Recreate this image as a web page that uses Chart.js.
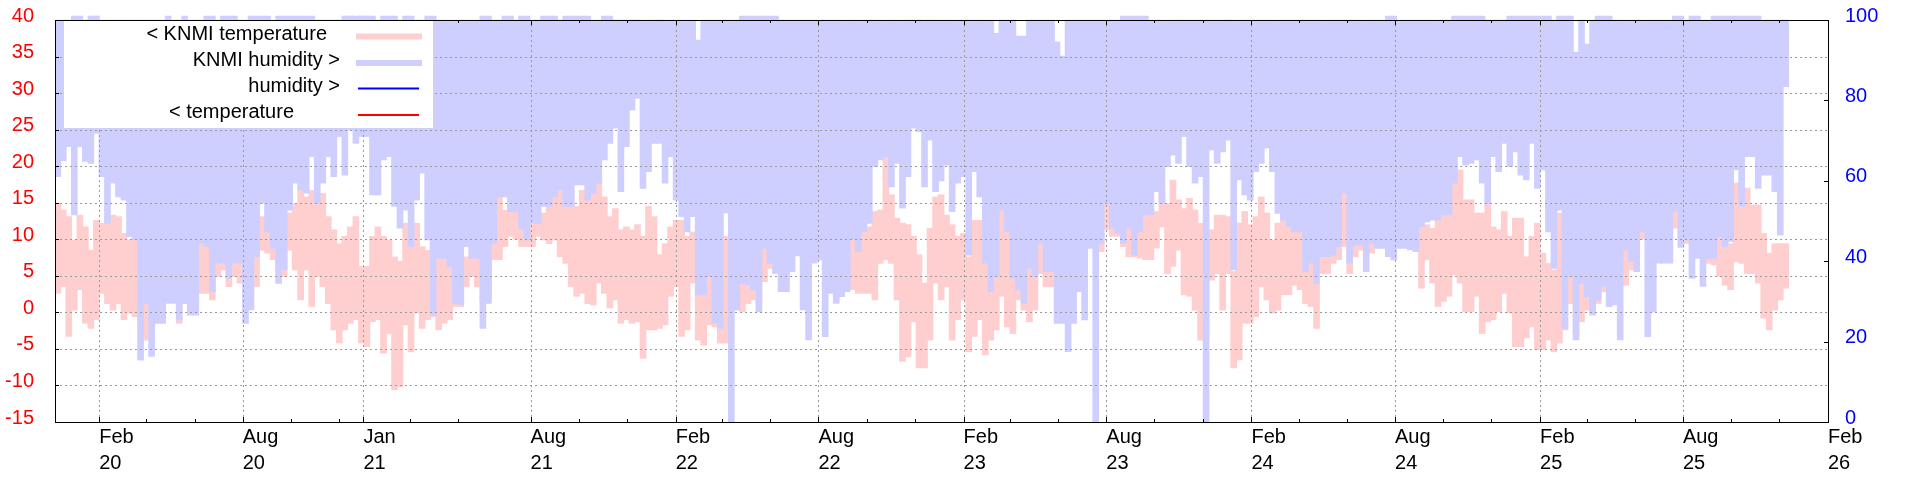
<!DOCTYPE html>
<html>
<head>
<meta charset="utf-8">
<title>KNMI temperatuur en vochtigheid</title>
<script src="https://cdn.jsdelivr.net/npm/chart.js@4/dist/chart.umd.min.js"></script>
<style>
  html, body { margin: 0; padding: 0; background: #fff; }
  #wrap { width: 1920px; height: 480px; position: relative; }
</style>
</head>
<body>
<div id="wrap"><canvas id="chart"></canvas></div>
<script>
// weekly KNMI values, first week starts on this day
const FIRST_WEEK = '2019-12-07';

// max temperature per week (C)
const TEMP_MAX = [
  14.9, 14.0, 13.1, 9.9, 13.3, 11.7, 8.5, 12.6, 12.2, 13.1,
  13.3, 13.1, 10.8, 9.9, 9.9, 12, 14, 15, 16, 17,
  18, 17, 16, 17, 19, 20, 20, 21, 22, 22,
  23, 22, 23, 24, 24, 22, 21, 13.1, 12.2, 10.4,
  9.9, 12.2, 13.6, 14.9, 18.6, 15.8, 16.7, 15.8, 16.3, 13.1,
  11.3, 9.4, 10.4, 11.7, 13.1, 6.3, 6.3, 10.4, 11.7, 10.4,
  9.9, 7.6, 7, 12.2, 9.0, 12.2, 9.0, 8.5, 14, 10.4,
  7.6, 6.7, 5.3, 7.2, 7.6, 9.9, 9.4, 16, 17, 18,
  15.8, 14, 16.7, 15.8, 17, 14.2, 14.5, 13.6, 13.6, 15.8,
  17.7, 17.7, 17.2, 16.7, 14.5, 16.7, 17.2, 16.5, 18.1, 15.8,
  13.1, 14.2, 11.3, 11.7, 11.3, 12.0, 10.4, 14.5, 13.1, 7.9,
  9.4, 11.7, 12.6, 12.6, 10.4, 11.0, 12, 12, 13, 14,
  16, 10.4, 18, 14, 4.9, 5.3, 6.7, 6.7, 9.4, 10.8,
  11.3, 20, 22, 22, 23, 24, 25, 24, 23, 24,
  22, 21, 20, 19, 11.5, 12.2, 12.2, 11.7, 13.8, 14,
  21.3, 16.1, 12.9, 12.2, 12.0, 10.4, 7.9, 4.0, 11.5, 15.8,
  16.1, 13.3, 12.0, 10.4, 10.8, 7.6, 12.6, 12.6, 6.7, 12,
  10, 15.4, 11.3, 12, 12, 12, 13, 14, 9.9, 15,
  16, 18, 20, 21, 22, 22, 23, 24, 25, 22,
  20, 21, 22, 22, 21, 20, 20, 19, 13.3, 13.8,
  16.5, 14.9, 18.1, 15.4, 14.2, 15.6, 14.0, 12.2, 10, 11.3,
  13.3, 13.3, 13.1, 5.6, 12.2, 13.8, 12.0, 13.1, 15.8, 13.6,
  9.9, 12.2, 12.6, 12.6, 14.5, 14.0, 9.4, 9.4, 4.0, 7.6,
  10.4, 8.5, 9.4, 16.5, 18, 10.4, 10.4, 20, 22, 22,
  23, 23, 24, 23, 22, 21, 21, 13.1, 12, 11.5,
  14.2, 13.3, 16.1, 20.6, 19.5, 15.4, 15.4, 13.6, 13.6, 14.9,
  11.7, 11.3, 13.8, 10.4, 12.9, 12.9, 7.6, 10.4, 12.2, 8.1,
  6.7, 5.8, 13.6, 12.2, 4.9, 12, 8.3, 6.7, 4.9, 6.7,
  6.7, 7.2, 18, 19, 20, 20, 21, 21, 22, 23,
  22, 22, 23, 20, 21, 20, 22, 21, 21, 19,
  18, 13.1, 12.2, 9.4, 17.7, 17.2, 17.0, 14.7, 14.7, 10.8,
  8.1, 9.4, 9.4, 9.4
];

// min temperature per week (C)
const TEMP_MIN = [
  2.6, 3.5, -3.3, 0.3, 3.1, -1.5, -2.2, -1.0, 2.6, 1.2,
  0.3, 1.2, -1.0, -0.1, -0.6, -2.0, -3.8, -2.4, -0.6, 0.5,
  1.7, 1.7, -1.5, 1.2, 0.3, 0.8, 2.6, 2.6, 1.7, 4.9,
  5.8, 3.5, 4.9, 4.0, 3.5, 3.1, 3.5, 8.5, 8.1, 7.2,
  5.8, 4.9, 8.5, 5.8, 1.7, 5.8, 0.8, 4.9, 3.5, 1.2,
  -2.4, -4.2, -2.4, -1.5, -1.0, -4.2, -4.7, -1.3, -1.0, -5.6,
  -2.9, -10.6, -10.2, -1.7, -5.4, -0.1, -2.2, -1.0, -0.6, -2.4,
  -1.5, -1.0, 0.8, 0.8, 3.5, 4.9, 3.5, 1.5, 1.7, 7.2,
  7.2, 9.0, 10.4, 10, 9.0, 9.0, 9.0, 10.4, 9.9, 9.4,
  9.9, 7.6, 6.7, 3.5, 2.2, 2.6, 1.2, 1.0, 4.0, 2.6,
  0.6, 1.7, -1.5, -1.0, -1.5, -1.3, -6.3, -2.4, -2.4, -2.2,
  -1.7, 2.2, 3.5, -3.3, -2.4, 4.0, -3.8, -4.5, -1.7, -2.0,
  -4.2, -4.2, 3, 0.3, 0.1, 1.2, 1.7, 1.2, 4.2, 6.0,
  5.3, 8, 9, 9, 10, 10, 11, 11, 10, 11,
  10, 9, 8, 8, 3.1, 2.6, 2.6, 2.6, 1.7, 6.7,
  7.2, 6.7, 1.7, -6.7, -6.1, -1.3, -7.6, -7.6, -3.8, 4.0,
  1.7, 3.5, -3.8, -1.0, 1.7, -5.4, -3.3, -1.0, -5.8, -3.8,
  -2.4, 2.2, -2.0, -2.9, 1.7, 0.3, -1.3, 0.3, 5.3, 3.5,
  3.5, 4, 5, 6, 7, 8, 9, 10, 11, 8.3,
  11.3, 10.4, 10.4, 9.0, 7.6, 7.6, 7.4, 7.2, 7.2, 8.8,
  11.7, 5.3, 6.3, 8.5, 2.4, 2.2, 0.3, -3.8, -3.5, 4.4,
  5.3, 0.3, 5.3, -7.6, -6.5, -1.5, -1.5, -0.6, 3.5, 1.7,
  -0.1, 0.3, 2.4, 2.4, 3.7, 3.1, 1.2, 0.8, -2.2, 5.3,
  5.3, 6.7, 7.2, 9.0, 5.3, 7.6, 8.5, 9, 8.1, 10,
  11, 11, 11, 11, 11, 10, 10, 3.3, 7.2, 4.0,
  0.8, 1.5, 2.2, 5.1, 4.0, 0.1, 0.1, 2.2, -2.9, -1.3,
  -1.0, 0.1, 2.6, -0.1, -4.7, -4.7, -3.5, -2.0, -5.1, -5.1,
  -3.8, -5.4, -4.2, -2.4, 1.2, -3.1, -1.3, 0.3, 0.8, 1.2,
  2.8, 3.1, 3.5, 4, 3.7, 5.8, 8, 10, 10, 10,
  10, 10, 11, 11.5, 10, 9.4, 10, 10, 10, 6.7,
  6.5, 4.9, 3.7, 3.1, 6.9, 6.7, 5.3, 5.3, 4.0, -0.8,
  -2.4, 0.3, 1.7, 3.3
];

// min humidity per week (%)
const HUM_MIN = [
  61, 65, 68.5, 51.5, 68.5, 64.8, 64.3, 71.8, 61, 49.4,
  59.4, 56, 55.2, 46.1, 45.3, 15.4, 29.5, 16.3, 24.5, 24.5,
  29.5, 29.5, 25.4, 29.5, 26.6, 26.6, 44.4, 43.6, 32.4, 39.5,
  39.5, 35.7, 39.5, 39.5, 24.5, 27.9, 41.1, 54.4, 47.3, 43.2,
  34.5, 37.8, 52.7, 59.4, 57.7, 56.9, 66, 54.4, 59.4, 66,
  61, 71, 61.4, 72.6, 69.3, 71, 71, 56.5, 56.5, 65.2,
  66, 53.6, 48.2, 52.7, 43.6, 55.2, 61.9, 45.3, 26.6, 40.7,
  40.7, 38.6, 29.5, 29.1, 43.6, 40.7, 40.7, 23.3, 29.5, 44.4,
  56, 56, 52.3, 52.3, 48, 45.3, 49.4, 49.4, 53.6, 53.6,
  56, 57.7, 53.6, 53.6, 59, 59, 55.2, 56.9, 59.4, 65.2,
  69.3, 73.1, 57.3, 68.5, 77.6, 80.5, 58.1, 62.3, 69.3, 69.3,
  59.4, 66, 55.2, 51.1, 47.3, 51.1, 31.6, 31.6, 36.2, 24.5,
  23.3, 52, 0, 27.9, 34.5, 34.1, 32.8, 27.4, 43.2, 39.5,
  37, 32.4, 32.4, 37.4, 41.3, 27.9, 20.4, 39.5, 40.3, 21.2,
  32, 29.5, 31.2, 32.4, 45.3, 42.4, 47.3, 49.4, 63.5, 65.2,
  66, 58.5, 64.3, 53.2, 61, 73.1, 72.2, 58.5, 70.1, 57.3,
  60, 63.9, 52.3, 59.4, 61, 41.5, 62.3, 56, 39.5, 32.4,
  36.2, 52.7, 47.3, 35.7, 32.8, 29.5, 38.2, 36.2, 44.4, 37.4,
  37.4, 24.5, 24.5, 17.5, 24.5, 32.4, 25.4, 43.2, 0, 44.4,
  54.4, 48.2, 47, 44.4, 48.2, 41.5, 47.3, 51.5, 51.5, 57.3,
  54.4, 63.5, 66.4, 64.3, 71, 63.5, 59.4, 61, 0, 67.7,
  64.3, 67.2, 70.1, 37.8, 60.2, 56.5, 55.2, 62.3, 64.3, 68.1,
  62.3, 51.9, 50.2, 48.6, 47.3, 47.3, 37.4, 39.5, 34.5, 41.1,
  41.1, 41.5, 43.6, 57, 39.5, 44, 44, 37.4, 44.4, 43.2,
  43.2, 41.1, 40.3, 43.2, 43.2, 42.8, 42.4, 48.6, 49.8, 50.2,
  50.2, 51.5, 51.5, 59.4, 66, 63.9, 64.3, 65.2, 59.4, 54.4,
  66, 62.3, 69.3, 63.5, 67.2, 61.4, 60.2, 69.3, 58.1, 62.7,
  47.3, 38.2, 52.7, 23.3, 36.2, 20.4, 34.5, 31.2, 26.6, 30.3,
  33.7, 28.7, 29.1, 20.4, 42.8, 39.9, 37.4, 47.3, 21.2, 27.4,
  39.5, 39.5, 39.5, 52.3, 43.4, 45.3, 35.7, 40.7, 33.7, 40.7,
  40.7, 46.1, 43.6, 44.9, 62.7, 53.6, 66, 66, 58.1, 61.4,
  61.4, 57.3, 46.5, 83.4
];

// max humidity per week (%), a few weeks read just over 100
const HUM_MAX = [
  100, 100, 100, 101, 101, 100, 101, 101, 100, 100,
  100, 100, 100, 100, 100, 100, 100, 100, 100, 100,
  101, 100, 100, 101, 100, 100, 100, 101, 101, 100,
  101, 101, 101, 100, 100, 101, 101, 101, 101, 100,
  101, 101, 101, 101, 101, 101, 101, 100, 100, 100,
  100, 100, 101, 101, 101, 101, 101, 101, 100, 101,
  101, 101, 100, 101, 101, 100, 100, 101, 101, 100,
  100, 100, 100, 100, 100, 100, 100, 101, 101, 100,
  100, 101, 101, 100, 101, 101, 100, 100, 101, 101,
  101, 100, 101, 101, 101, 101, 101, 100, 100, 101,
  101, 100, 100, 100, 100, 100, 100, 100, 100, 100,
  100, 100, 100, 100, 100, 100, 95, 100, 100, 100,
  100, 100, 100, 100, 101, 101, 101, 101, 101, 101,
  101, 100, 100, 100, 100, 100, 100, 100, 100, 100,
  100, 100, 100, 100, 100, 100, 100, 100, 100, 100,
  100, 100, 100, 100, 100, 100, 100, 100, 100, 100,
  100, 100, 100, 100, 100, 100, 100, 100, 100, 100,
  96.7, 100, 100, 100, 96, 96, 100, 100, 100, 100,
  100, 94.6, 91, 100, 100, 100, 100, 100, 100, 100,
  100, 100, 100, 101, 101, 101, 101, 101, 100, 100,
  100, 100, 100, 100, 100, 100, 100, 100, 100, 100,
  100, 100, 100, 100, 100, 100, 100, 100, 100, 100,
  100, 100, 100, 100, 100, 100, 100, 100, 100, 100,
  100, 100, 100, 100, 100, 100, 100, 100, 100, 100,
  100, 101, 101, 100, 100, 100, 100, 100, 100, 100,
  100, 100, 100, 101, 101, 101, 101, 101, 101, 100,
  100, 100, 100, 101, 101, 101, 101, 101, 101, 101,
  101, 100, 101, 101, 101, 92, 100, 94, 100, 101,
  101, 101, 100, 100, 100, 100, 100, 100, 100, 100,
  100, 100, 100, 101, 101, 100, 101, 101, 100, 100,
  101, 101, 101, 101, 101, 101, 101, 101, 101, 100,
  100, 100, 100, 100
];

// x axis
const X_MIN = '2019-12-07';
const X_MAX = '2026-02-01';
const TICK_DATES = ['2020-02-01', '2020-08-01', '2021-01-01', '2021-08-01', '2022-02-01', '2022-08-01',
  '2023-02-01', '2023-08-01', '2024-02-01', '2024-08-01', '2025-02-01', '2025-08-01', '2026-02-01'];
const TICK_LABELS = [['Feb', '20'], ['Aug', '20'], ['Jan', '21'], ['Aug', '21'], ['Feb', '22'], ['Aug', '22'],
  ['Feb', '23'], ['Aug', '23'], ['Feb', '24'], ['Aug', '24'], ['Feb', '25'], ['Aug', '25'], ['Feb', '26']];
const MINOR_DATES = ['2020-04-01', '2020-06-01', '2020-10-01', '2020-12-01', '2021-03-01', '2021-05-01',
  '2021-10-01', '2021-12-01', '2022-04-01', '2022-06-01', '2022-10-01', '2022-12-01', '2023-04-01',
  '2023-06-01', '2023-10-01', '2023-12-01', '2024-04-01', '2024-06-01', '2024-10-01', '2024-12-01',
  '2025-04-01', '2025-06-01', '2025-10-01', '2025-12-01'];

const LEGEND_LABELS = ['< KNMI temperature', 'KNMI humidity >', 'humidity >', '< temperature'];

// looks
const PINK = '#ffcfcf';
const LILAC = '#cfcfff';
const FONT = { family: 'Liberation Sans', size: 20, lineHeight: 1.3 };
const legendRows = [
  { right: 327, base: 40, color: PINK, width: 6, y: 36.5, x0: 356, x1: 422 },
  { right: 340, base: 66, color: LILAC, width: 6, y: 63, x0: 356, x1: 422 },
  { right: 340, base: 92, color: '#0000ff', width: 2, y: 88.5, x0: 358, x1: 419 },
  { right: 294, base: 118, color: '#ff0000', width: 2, y: 115, x0: 358, x1: 419 }
];

const dayOf = (s) => (Date.parse(s) - Date.parse(FIRST_WEEK)) / 86400000;
const weekX = (i) => i * 7 + 3.5;

const tempData = TEMP_MAX.map((v, i) => ({ x: weekX(i), y: [TEMP_MIN[i], v] }));
const humData = HUM_MIN.map((v, i) => ({ x: weekX(i), y: [v, HUM_MAX[i]] }));

// no extra padding from the tick labels, the plot box is fixed
const noPad = (s) => { s.paddingTop = 0; s.paddingBottom = 0; s.paddingLeft = 0; s.paddingRight = 0; };

//rand, ticks naar binnen, grid boven de balken en de legenda
const framePlugin = {
  id: 'frame',
  afterDatasetsDraw(chart) {
    const { ctx, chartArea: a } = chart;
    const sx = chart.scales.x, sy = chart.scales.y, sh = chart.scales.y1;
    const px = (v) => Math.round(v) + 0.5;
    ctx.save();

    // dotted grid
    ctx.strokeStyle = '#9a9a9a';
    ctx.lineWidth = 1;
    ctx.setLineDash([2, 3]);
    ctx.beginPath();
    sy.ticks.forEach((t) => {
      const y = px(sy.getPixelForValue(t.value));
      if (y > a.top + 1 && y < a.bottom - 1) { ctx.moveTo(a.left, y); ctx.lineTo(a.right, y); }
    });
    TICK_DATES.forEach((d) => {
      const x = px(sx.getPixelForValue(dayOf(d)));
      if (x > a.left + 1 && x < a.right - 1) { ctx.moveTo(x, a.top); ctx.lineTo(x, a.bottom); }
    });
    ctx.stroke();
    ctx.setLineDash([]);

    // border
    ctx.strokeStyle = '#000';
    ctx.strokeRect(px(a.left), px(a.top), Math.round(a.right) - Math.round(a.left), Math.round(a.bottom) - Math.round(a.top));

    // inward ticks
    ctx.beginPath();
    TICK_DATES.forEach((d) => {
      const x = px(sx.getPixelForValue(dayOf(d)));
      ctx.moveTo(x, a.bottom); ctx.lineTo(x, a.bottom - 5);
      ctx.moveTo(x, a.top); ctx.lineTo(x, a.top + 5);
    });
    MINOR_DATES.forEach((d) => {
      const x = px(sx.getPixelForValue(dayOf(d)));
      ctx.moveTo(x, a.bottom); ctx.lineTo(x, a.bottom - 3);
      ctx.moveTo(x, a.top); ctx.lineTo(x, a.top + 3);
    });
    sy.ticks.forEach((t) => {
      const y = px(sy.getPixelForValue(t.value));
      ctx.moveTo(a.left, y); ctx.lineTo(a.left + 4, y);
    });
    sh.ticks.forEach((t) => {
      const y = px(sh.getPixelForValue(t.value));
      ctx.moveTo(a.right, y); ctx.lineTo(a.right - 4, y);
    });
    ctx.stroke();

    // legend
    ctx.fillStyle = '#fff';
    ctx.fillRect(64, Math.round(a.top) + 1, 369, 107);
    ctx.font = '20px "Liberation Sans"';
    ctx.textAlign = 'right';
    ctx.textBaseline = 'alphabetic';
    legendRows.forEach((r, i) => {
      ctx.fillStyle = '#000';
      ctx.fillText(LEGEND_LABELS[i], r.right, r.base);
      ctx.strokeStyle = r.color;
      ctx.lineWidth = r.width;
      ctx.beginPath();
      ctx.moveTo(r.x0, r.y); ctx.lineTo(r.x1, r.y);
      ctx.stroke();
    });
    ctx.restore();
  }
};

Chart.defaults.font.family = 'Liberation Sans';

new Chart(document.getElementById('chart'), {
  type: 'bar',
  data: {
    datasets: [
      { label: LEGEND_LABELS[0], data: tempData, backgroundColor: PINK, yAxisID: 'y', order: 1,
        grouped: false, barThickness: 6, borderWidth: 0 },
      { label: LEGEND_LABELS[1], data: humData, backgroundColor: LILAC, yAxisID: 'y1', order: 0,
        grouped: false, barThickness: 6, borderWidth: 0,
        clip: { left: 0, top: 6, right: 0, bottom: 0 } }
    ]
  },
  options: {
    responsive: true,
    maintainAspectRatio: false,
    animation: false,
    events: [],
    layout: { padding: { top: 20, left: 0, right: 0, bottom: 0 } },
    plugins: { legend: { display: false }, tooltip: { enabled: false } },
    scales: {
      x: {
        type: 'linear',
        offset: false,
        min: dayOf(X_MIN),
        max: dayOf(X_MAX),
        grid: { display: false, drawTicks: false },
        border: { display: false },
        afterBuildTicks: (s) => { s.ticks = TICK_DATES.map((d) => ({ value: dayOf(d) })); },
        ticks: {
          autoSkip: false, maxRotation: 0, minRotation: 0, align: 'start', padding: 2,
          color: '#000', font: FONT,
          callback: (v, i) => TICK_LABELS[i]
        },
        afterFit: (s) => { s.height = 58; noPad(s); }
      },
      y: {
        position: 'left',
        min: -15, max: 40,
        grid: { display: false, drawTicks: false },
        border: { display: false },
        ticks: { stepSize: 5, color: '#ff0000', padding: 21, labelOffset: -4, font: FONT },
        afterFit: (s) => { s.width = 55; noPad(s); }
      },
      y1: {
        position: 'right',
        min: 0, max: 100,
        grid: { display: false, drawTicks: false },
        border: { display: false },
        ticks: { stepSize: 20, color: '#0000ff', padding: 17, labelOffset: -4, font: FONT },
        afterFit: (s) => { s.width = 92; noPad(s); }
      }
    }
  },
  plugins: [framePlugin]
});
</script>
</body>
</html>
